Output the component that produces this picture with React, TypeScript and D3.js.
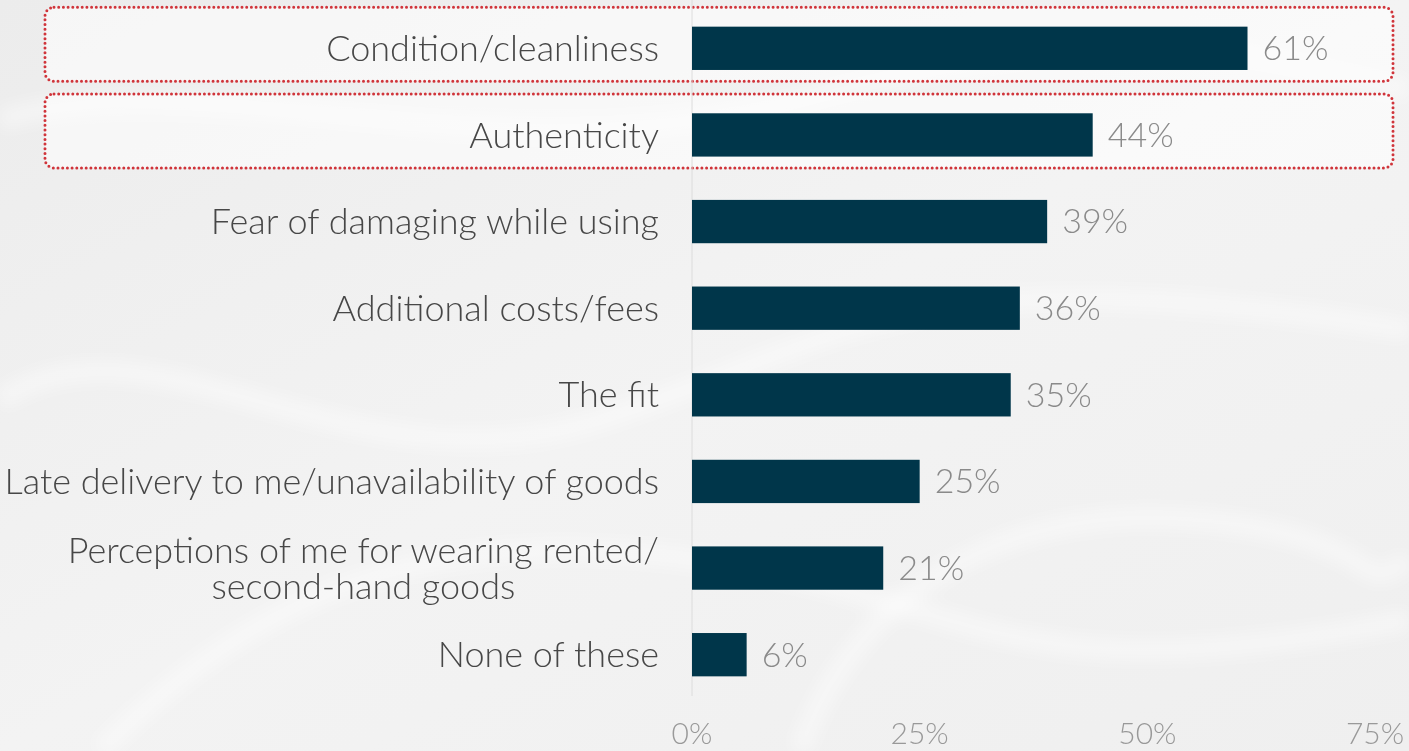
import React, { useEffect, useRef } from "react";
import * as d3 from "d3";

const categories = [
  "Condition/cleanliness",
  "Authenticity",
  "Fear of damaging while using",
  "Additional costs/fees",
  "The fit",
  "Late delivery to me/unavailability of goods",
  "Perceptions of me for wearing rented/\nsecond-hand goods",
  "None of these",
];
const values = [61, 44, 39, 36, 35, 25, 21, 6];
const ticks = [0, 25, 50, 75];
const highlighted = [0, 1];

const W = 1409;
const H = 751;
const FONT = "Lato, 'Open Sans', sans-serif";

export default function App() {
  const ref = useRef<SVGSVGElement>(null);
  useEffect(() => {
    document.body.style.margin = "0";
    const svg = d3.select(ref.current!);
    svg.selectAll("*").remove();

    const x = d3.scaleLinear().domain([0, 75]).range([692, 1375]);
    const y = d3
      .scaleBand<number>()
      .domain(d3.range(categories.length))
      .range([5, 698])
      .paddingInner(0.5)
      .paddingOuter(0.25);

    // background
    const defs = svg.append("defs");
    const grad = defs
      .append("linearGradient")
      .attr("id", "bg")
      .attr("x1", 0)
      .attr("y1", 0)
      .attr("x2", 1)
      .attr("y2", 1);
    grad.append("stop").attr("offset", 0).attr("stop-color", "#ececec");
    grad.append("stop").attr("offset", 0.5).attr("stop-color", "#f3f3f3");
    grad.append("stop").attr("offset", 1).attr("stop-color", "#efefef");
    const blur = defs.append("filter").attr("id", "blur");
    blur.append("feGaussianBlur").attr("stdDeviation", 8);
    svg.append("rect").attr("width", W).attr("height", H).attr("fill", "url(#bg)");
    const swirls = [
      "M0,120 C200,60 500,180 800,100 S1200,40 1409,90",
      "M0,400 C150,300 350,500 600,420 S900,250 1409,330",
      "M100,751 C250,600 420,520 700,560 S1000,700 1409,620",
      "M800,751 C850,600 1000,500 1200,520 S1350,600 1409,560",
    ];
    svg
      .append("g")
      .attr("filter", "url(#blur)")
      .selectAll("path")
      .data(swirls)
      .join("path")
      .attr("d", (d) => d)
      .attr("fill", "none")
      .attr("stroke", "#ffffff")
      .attr("stroke-width", 22)
      .attr("opacity", 0.4);

    // highlight boxes
    svg
      .append("g")
      .selectAll("rect")
      .data(highlighted)
      .join("rect")
      .attr("x", 45)
      .attr("y", (i) => y(i)! + y.bandwidth() / 2 - 41)
      .attr("width", 1348)
      .attr("height", 74)
      .attr("rx", 9)
      .attr("fill", "rgba(255,255,255,0.55)")
      .attr("stroke", "#d0343a")
      .attr("stroke-width", 3)
      .attr("stroke-linecap", "round")
      .attr("stroke-dasharray", "0 4.7");

    // axis line
    svg
      .append("line")
      .attr("x1", x(0))
      .attr("x2", x(0))
      .attr("y1", 0)
      .attr("y2", 696)
      .attr("stroke", "#dcdcdc")
      .attr("stroke-width", 1);

    // bars
    svg
      .append("g")
      .selectAll("rect")
      .data(values)
      .join("rect")
      .attr("x", x(0))
      .attr("y", (_, i) => y(i)!)
      .attr("width", (d) => x(d) - x(0))
      .attr("height", y.bandwidth())
      .attr("fill", "#00364a");

    // value labels
    svg
      .append("g")
      .selectAll("text")
      .data(values)
      .join("text")
      .attr("x", (d) => x(d) + 15)
      .attr("y", (_, i) => y(i)! + y.bandwidth() / 2)
      .attr("dy", "0.35em")
      .attr("font-family", FONT)
      .attr("font-size", 34)
      .attr("font-weight", 300)
      .attr("fill", "#8a8a8a")
      .text((d) => `${d}%`);

    // category labels
    const lab = svg.append("g");
    categories.forEach((c, i) => {
      const lines = c.split("\n");
      const cy = y(i)! + y.bandwidth() / 2;
      const lh = 36;
      const t = lab
        .append("text")
        .attr("font-family", FONT)
        .attr("font-size", 36)
        .attr("font-weight", 300)
        .attr("fill", "#474747");
      if (lines.length === 1) {
        t.attr("x", 659).attr("y", cy).attr("dy", "0.35em").attr("text-anchor", "end").text(c);
      } else {
        const spans = lines.map((l, k) =>
          t
            .append("tspan")
            .attr("y", cy + (k - (lines.length - 1) / 2) * lh)
            .attr("dy", "0.35em")
            .text(l)
        );
        const widths = spans.map((s) => (s.node() as SVGTextContentElement).getComputedTextLength());
        const mw = Math.max(...widths);
        const center = 659 - mw / 2;
        spans.forEach((s) => s.attr("x", center).attr("text-anchor", "middle"));
      }
    });

    // ticks
    svg
      .append("g")
      .selectAll("text")
      .data(ticks)
      .join("text")
      .attr("x", (d) => x(d))
      .attr("y", 744)
      .attr("text-anchor", "middle")
      .attr("font-family", FONT)
      .attr("font-size", 30)
      .attr("font-weight", 300)
      .attr("fill", "#999999")
      .text((d) => `${d}%`);
  }, []);
  return <svg ref={ref} width={W} height={H} style={{ display: "block" }} />;
}
